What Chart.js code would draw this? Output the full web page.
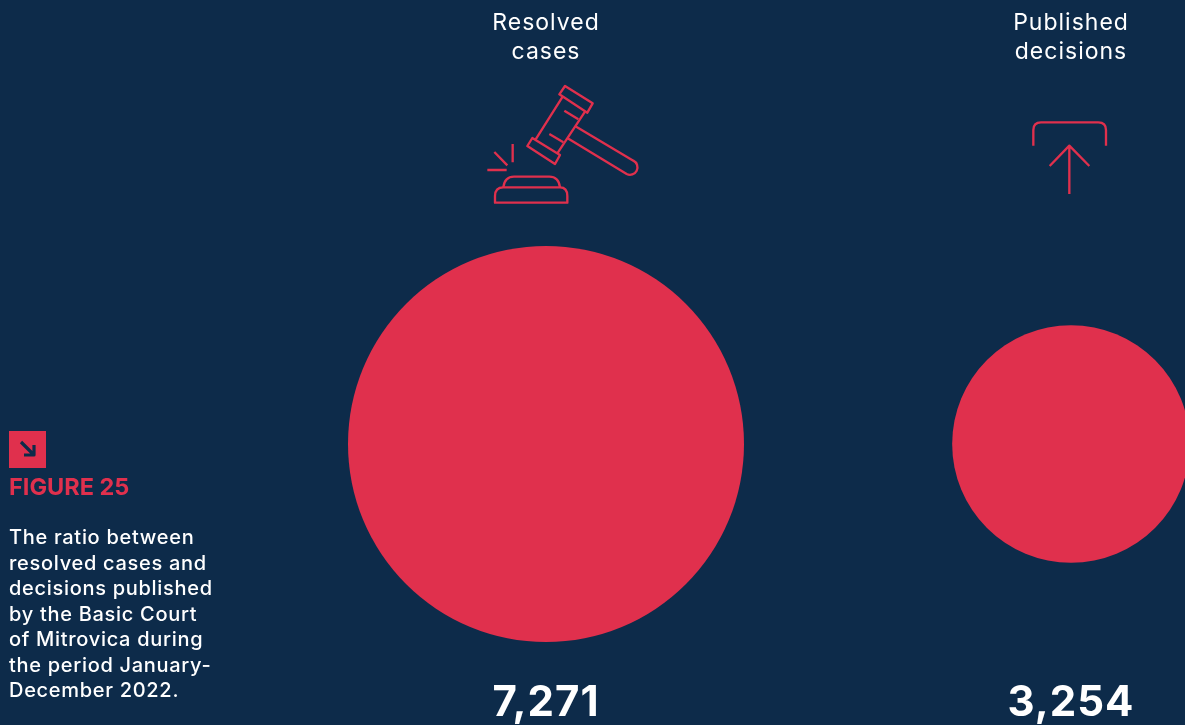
<!DOCTYPE html>
<html><head><meta charset="utf-8">
<script src="https://cdn.jsdelivr.net/npm/chart.js@4"></script>
<style>
html,body{margin:0;padding:0;width:1185px;height:725px;overflow:hidden;background:#0d2b4a}
#wrap{position:absolute;left:0;top:0;width:1185px;height:725px}
svg{position:absolute;fill:none;stroke:#e0304d;stroke-linecap:butt;stroke-linejoin:round}
.t{position:absolute;left:9px;font-family:"Inter",sans-serif;white-space:nowrap}
#fig{top:473px;font-size:23.5px;line-height:28px;font-weight:700;color:#e0304d}
#desc{top:525px;font-size:20px;line-height:25.5px;color:#fff;font-weight:500;letter-spacing:.7px}
</style></head><body>
<div id="wrap"><canvas id="c" width="1185" height="725"></canvas></div>
<svg style="left:470px;top:70px" width="190" height="150" viewBox="0 0 570 450" stroke-width="7">
<path d="M285,48 L368,100 L352,128 L268,73 Z"/>
<path d="M187,204 L270,255 L255,282 L172,228 Z"/>
<path d="M278,80 L197,208 M345,125 L262,250"/>
<path d="M283,122 L325,148 M238,192 L280,217"/>
<path d="M315,168 L490,272 A20,20 0 0 1 470,312 L293,205"/>
<path d="M128,222 V277 M73,246 L112,286 M52,300 H110"/>
<path d="M100,352 Q104,320 132,320 H238 Q266,320 270,352"/>
<path d="M75,398 V378 Q75,352 100,352 H270 Q292,352 292,378 V398 Z"/>
</svg>
<svg style="left:1010px;top:100px" width="120" height="110" viewBox="0 0 360 330" stroke-width="7">
<path d="M70,137 V90 Q70,67 93,67 H265 Q288,67 288,90 V137"/>
<path d="M178,282 V137 M119,198 L178,137 L238,198"/>
</svg>
<svg style="left:9px;top:431px;stroke:none" width="37" height="37" viewBox="0 0 37 37">
<rect width="37" height="37" fill="#e0304d"/>
<path d="M12,11 L24,23 M25,14 V24 H15" fill="none" stroke-width="3.2" style="stroke:#0d2b4a"/>
</svg>
<div class="t" id="fig">FIGURE 25</div>
<div class="t" id="desc">The ratio between<br>resolved cases and<br>decisions published<br>by the Basic Court<br>of Mitrovica during<br>the period January-<br>December 2022.</div>
</div>
<script>
const categories = [['Resolved', 'cases'], ['Published', 'decisions']];
const values = [7271, 3254];
const valueLabels = ['7,271', '3,254'];

const FONT = 'Inter, sans-serif';
const RED = '#e0304d';
// circle radius grows with the value as a power curve fitted to the picture
const R_MAX = 198, R_EXP = 0.635;
const radiusFor = v => R_MAX * Math.pow(v / Math.max(...values), R_EXP);

new Chart(document.getElementById('c'), {
  type: 'bubble',
  data: {
    labels: categories,
    datasets: [{
      data: values.map((v, i) => ({ x: i, y: 0, r: radiusFor(v) })),
      backgroundColor: RED,
      hoverBackgroundColor: RED,
      borderWidth: 0,
      clip: false
    }]
  },
  plugins: [{ id: 'spacing', beforeDraw: c => { c.ctx.letterSpacing = '1px'; } }],
  options: {
    responsive: false,
    animation: false,
    events: [],
    layout: { autoPadding: false, padding: { left: 546, right: 114, top: 0, bottom: 0 } },
    plugins: { legend: { display: false }, tooltip: { enabled: false }, title: { display: false } },
    scales: {
      x: {
        type: 'category', position: 'top', offset: false,
        afterFit: s => { s.height = 78; },
        grid: { display: false }, border: { display: false },
        ticks: { color: '#fff', font: { family: FONT, size: 23, lineHeight: 1.26 }, autoSkip: false, maxRotation: 0, padding: 3 }
      },
      x2: {
        type: 'category', position: 'bottom', offset: false, labels: valueLabels,
        afterFit: s => { s.height = 57; },
        grid: { display: false }, border: { display: false },
        ticks: { color: '#fff', font: { family: FONT, size: 42, weight: '700' }, autoSkip: false, maxRotation: 0, padding: 2 }
      },
      y: { type: 'linear', display: false, min: -224, max: 366 }
    }
  }
});
</script>
</body></html>
